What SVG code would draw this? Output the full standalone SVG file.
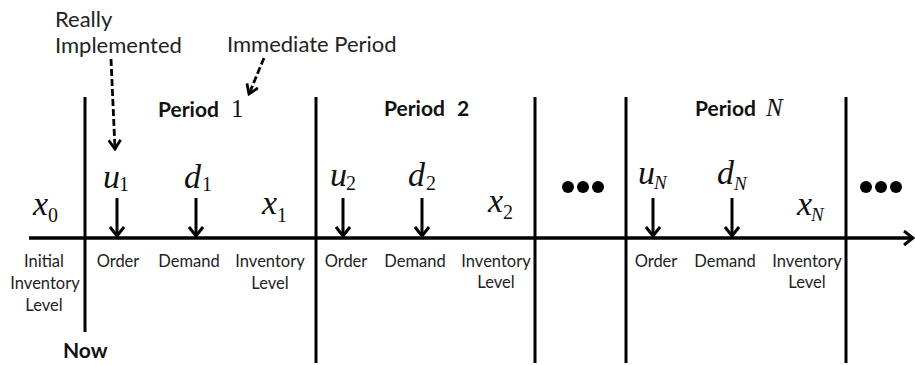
<svg xmlns="http://www.w3.org/2000/svg" width="915" height="365" viewBox="0 0 915 365">
<style>
.lbl{font-family:Lato,"Open Sans",sans-serif;font-size:16.5px;fill:#222;text-anchor:middle}
.note{font-family:Lato,"Open Sans",sans-serif;font-size:22px;fill:#222}
.ttl{font-family:Lato,"Open Sans",sans-serif;font-size:21px;font-weight:bold;fill:#111}
.m{font-family:"Liberation Serif","Times New Roman",serif;font-style:italic;font-size:34px;fill:#111}
.s{font-family:"Liberation Serif","Times New Roman",serif;font-style:normal;font-size:20px}
.si{font-family:"Liberation Serif","Times New Roman",serif;font-style:italic;font-size:19px}
.mn{font-family:"Liberation Serif","Times New Roman",serif;font-size:25px;font-weight:normal}
.vl{stroke:#000;stroke-width:3;fill:none}
.ax{stroke:#000;stroke-width:3.5;fill:none}
.da{stroke:#000;stroke-width:3;fill:none}
.dash{stroke:#000;stroke-width:2.8;fill:none;stroke-dasharray:7 3}
</style>
<defs>
<marker id="chev" markerUnits="userSpaceOnUse" viewBox="0 0 12 16" refX="10" refY="8" markerWidth="12" markerHeight="16" orient="auto">
<path d="M1,1 L10,8 L1,15" fill="none" stroke="#000" stroke-width="3"/>
</marker>
<marker id="chevs" markerUnits="userSpaceOnUse" viewBox="0 0 12 14" refX="10" refY="7" markerWidth="12" markerHeight="14" orient="auto">
<path d="M1,1 L10,7 L1,13" fill="none" stroke="#000" stroke-width="2.8"/>
</marker>
</defs>

<g id="connectors">
<line id="axis" class="ax" x1="29" y1="238" x2="913" y2="238" marker-end="url(#chev)"/>
<line class="vl" x1="85" y1="97" x2="85" y2="332"/>
<line class="vl" x1="316" y1="97" x2="316" y2="363"/>
<line class="vl" x1="535" y1="97" x2="535" y2="363"/>
<line class="vl" x1="626" y1="97" x2="626" y2="363"/>
<line class="vl" x1="846" y1="97" x2="846" y2="363"/>
<line class="da" x1="117" y1="198" x2="117" y2="236" marker-end="url(#chev)"/>
<line class="da" x1="196" y1="198" x2="196" y2="236" marker-end="url(#chev)"/>
<line class="da" x1="343" y1="198" x2="343" y2="236" marker-end="url(#chev)"/>
<line class="da" x1="422" y1="198" x2="422" y2="236" marker-end="url(#chev)"/>
<line class="da" x1="653" y1="198" x2="653" y2="236" marker-end="url(#chev)"/>
<line class="da" x1="732" y1="198" x2="732" y2="236" marker-end="url(#chev)"/>
<line class="dash" x1="111" y1="59" x2="115" y2="149" marker-end="url(#chevs)"/>
<line class="dash" x1="264" y1="58" x2="249" y2="94" marker-end="url(#chevs)"/>
</g>

<g id="notes">
<text class="note" x="55" y="27">Really</text>
<text class="note" x="55" y="53">Implemented</text>
<text class="note" x="227" y="52">Immediate Period</text>
</g>

<g id="period1">
<text class="ttl" x="158" y="117">Period <tspan class="mn" x="231">1</tspan></text>
<text class="m" x="103" y="188">u<tspan class="s" dx="-1" y="191">1</tspan></text>
<text class="m" x="184" y="188">d<tspan class="s" dx="1" y="191">1</tspan></text>
<text class="m" x="262" y="214">x<tspan class="s" dx="0" y="222">1</tspan></text>
<text class="lbl" x="118" y="267">Order</text>
<text class="lbl" x="189" y="267">Demand</text>
<text class="lbl" x="270" y="267">Inventory</text>
<text class="lbl" x="270" y="289">Level</text>
</g>

<g id="initial">
<text class="m" x="33" y="215">x<tspan class="s" dx="0" y="222">0</tspan></text>
<text class="lbl" x="44" y="267">Initial</text>
<text class="lbl" x="45" y="289">Inventory</text>
<text class="lbl" x="44" y="311">Level</text>
<text class="ttl" x="63" y="358">Now</text>
</g>

<g id="period2">
<text class="ttl" x="384" y="116">Period <tspan x="457">2</tspan></text>
<text class="m" x="330" y="186">u<tspan class="s" dx="-1" y="190">2</tspan></text>
<text class="m" x="408" y="186">d<tspan class="s" dx="1" y="190">2</tspan></text>
<text class="m" x="488" y="212">x<tspan class="s" dx="0" y="219">2</tspan></text>
<text class="lbl" x="346" y="267">Order</text>
<text class="lbl" x="415" y="267">Demand</text>
<text class="lbl" x="496" y="267">Inventory</text>
<text class="lbl" x="496" y="288">Level</text>
</g>

<g id="dots1">
<circle cx="568" cy="187" r="6"/>
<circle cx="583" cy="187" r="6"/>
<circle cx="598" cy="187" r="6"/>
</g>

<g id="periodN">
<text class="ttl" x="695" y="116">Period <tspan class="mn" font-style="italic" x="766">N</tspan></text>
<text class="m" x="638" y="184">u<tspan class="si" dx="-1" y="189">N</tspan></text>
<text class="m" x="717" y="184">d<tspan class="si" dx="0" y="190">N</tspan></text>
<text class="m" x="797" y="215">x<tspan class="si" dx="-1" y="221">N</tspan></text>
<text class="lbl" x="656" y="267">Order</text>
<text class="lbl" x="725" y="267">Demand</text>
<text class="lbl" x="807" y="267">Inventory</text>
<text class="lbl" x="807" y="288">Level</text>
</g>

<g id="dots2">
<circle cx="866" cy="187" r="6"/>
<circle cx="881" cy="187" r="6"/>
<circle cx="896" cy="187" r="6"/>
</g>
</svg>
